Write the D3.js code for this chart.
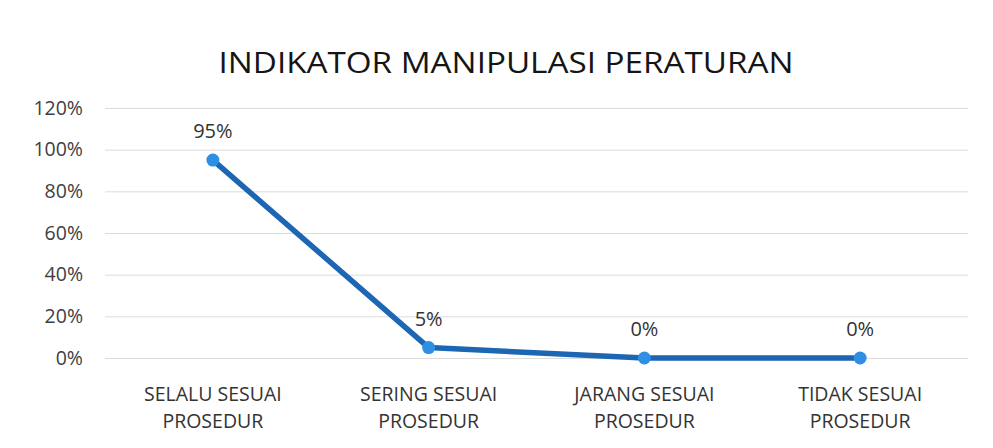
<!DOCTYPE html>
<html><head><meta charset="utf-8">
<script src="https://cdn.jsdelivr.net/npm/d3@7"></script>
<style>body{margin:0;background:#fff;} svg{display:block;}</style>
</head><body>
<script>
const categories = [["SELALU SESUAI","PROSEDUR"],["SERING SESUAI","PROSEDUR"],["JARANG SESUAI","PROSEDUR"],["TIDAK SESUAI","PROSEDUR"]];
const values = [0.95, 0.05, 0, 0];
const valueLabels = ["95%","5%","0%","0%"];
const yTicks = [0, 0.2, 0.4, 0.6, 0.8, 1.0, 1.2];
const title = "INDIKATOR MANIPULASI PERATURAN";

const W = 993, H = 448;
const svg = d3.select("body").append("svg").attr("width", W).attr("height", H);
svg.append("rect").attr("width", W).attr("height", H).attr("fill", "#fff");
const font = "'Open Sans', sans-serif";

const x = d3.scaleBand().domain(d3.range(categories.length)).range([105, 968]);
const y = d3.scaleLinear().domain([0, 1.2]).range([358, 108]);

svg.append("text").attr("x", 506).attr("y", 73).attr("text-anchor", "middle")
  .attr("font-family", font).attr("font-size", 30).attr("fill", "#151515")
  .attr("textLength", 575).attr("lengthAdjust", "spacingAndGlyphs").text(title);

const yAxis = d3.axisLeft(y).tickValues(yTicks).tickFormat(d3.format(".0%")).tickSize(-(968-105)).tickPadding(22);
const ga = svg.append("g").attr("transform", "translate(105,0)").call(yAxis);
ga.select(".domain").remove();
ga.selectAll(".tick line").attr("stroke", "#dcdcdc").attr("stroke-width", 1);
ga.selectAll(".tick text").attr("font-family", font).attr("font-size", 19.5).attr("fill", "#404040");

const xAxis = d3.axisBottom(x).tickSize(0).tickFormat("");
const gx = svg.append("g").attr("transform", "translate(0,380)").call(xAxis);
gx.select(".domain").remove();
gx.selectAll(".tick").each(function(d){
  const t = d3.select(this).append("text").attr("text-anchor","middle")
    .attr("font-family", font).attr("font-size", 19.5).attr("fill", "#333");
  categories[d].forEach((s,i)=> t.append("tspan").attr("x",0).attr("y", 21 + i*27).text(s));
});

const cx = i => x(i) + x.bandwidth()/2;
const line = d3.line().x((d,i)=>cx(i)).y(d=>y(d));
svg.append("path").datum(values).attr("d", line).attr("fill","none")
  .attr("stroke","#1c66b4").attr("stroke-width",5.5).attr("stroke-linejoin","round");
svg.selectAll("circle.pt").data(values).join("circle").attr("class","pt")
  .attr("cx",(d,i)=>cx(i)).attr("cy",d=>y(d)).attr("r",6.5).attr("fill","#2f8fe2");
svg.selectAll("text.lbl").data(values).join("text").attr("class","lbl")
  .attr("x",(d,i)=>cx(i)).attr("y",d=>y(d)-22).attr("text-anchor","middle")
  .attr("font-family", font).attr("font-size", 20).attr("fill","#333")
  .text((d,i)=>valueLabels[i]);
</script>
</body></html>
